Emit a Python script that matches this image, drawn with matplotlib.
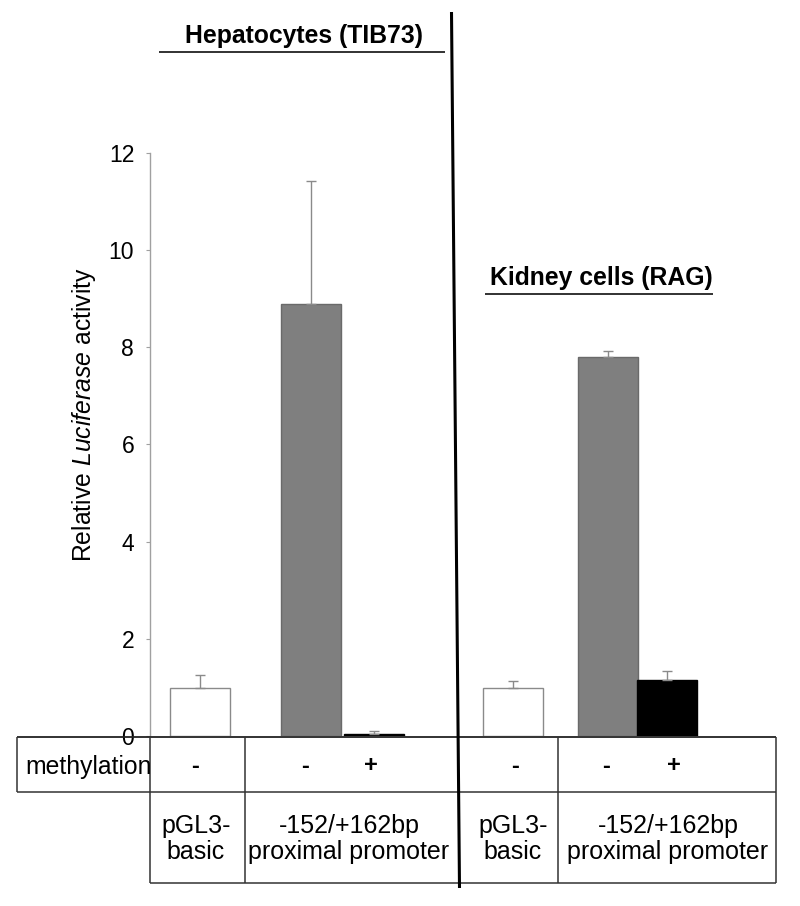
import matplotlib
matplotlib.use("Agg")
import matplotlib.pyplot as plt
from matplotlib.lines import Line2D

plt.rcParams['font.family'] = ['Liberation Sans', 'DejaVu Sans']
plt.rcParams['mathtext.fontset'] = 'custom'
plt.rcParams['mathtext.rm'] = 'Liberation Sans'
plt.rcParams['mathtext.it'] = 'Liberation Sans:italic'

# ---- data ----
groups = ["Hepatocytes (TIB73)", "Kidney cells (RAG)"]
conditions = ["pGL3-basic", "-152/+162bp unmethylated", "-152/+162bp methylated"]
hep_values = [1.0, 8.88, 0.05]
hep_errors = [0.27, 2.54, 0.05]
kid_values = [1.0, 7.80, 1.16]
kid_errors = [0.14, 0.12, 0.19]
yticks = [0, 2, 4, 6, 8, 10, 12]
methylation_signs = ["-", "-", "+", "-", "-", "+"]
construct_labels = ["pGL3-\nbasic", "-152/+162bp\nproximal promoter",
                    "pGL3-\nbasic", "-152/+162bp\nproximal promoter"]
ylabel = r"Relative $\it{Luciferase}$ activity"

# ---- layout (pixels) ----
W, H = 800, 906
fig = plt.figure(figsize=(W / 100, H / 100), dpi=100)

def fx(x):
    return x / W

def fy(y):
    return 1 - y / H

ax_left, ax_right, ax_top, ax_bottom = 149.5, 776, 152.5, 736.3
ax = fig.add_axes([fx(ax_left), fy(ax_bottom), fx(ax_right - ax_left),
                   (ax_bottom - ax_top) / H])
ax.set_xlim(0, ax_right - ax_left)
ax.set_ylim(0, 12)

bar_pos = [50.5, 161, 224, 363, 458, 517.5]
bar_w = 60
values = hep_values + kid_values
errors = hep_errors + kid_errors
faces = ["white", "#7f7f7f", "black", "white", "#7f7f7f", "black"]
edges = ["#8a8a8a", "#6a6a6a", "black", "#8a8a8a", "#6a6a6a", "black"]
for p, v, e, fc, ec in zip(bar_pos, values, errors, faces, edges):
    ax.bar(p, v, width=bar_w, color=fc, edgecolor=ec, linewidth=1.0, zorder=2)
    ax.errorbar(p, v, yerr=[[0], [e]], fmt="none", ecolor="#8a8a8a",
                elinewidth=1.0, capsize=3.6, capthick=1.0, zorder=3)

for s in ["top", "right", "bottom"]:
    ax.spines[s].set_visible(False)
ax.spines["left"].set_color("#a0a0a0")
ax.spines["left"].set_linewidth(1.0)
ax.set_xticks([])
ax.set_yticks(yticks)
ax.set_yticklabels([str(t) for t in yticks], fontsize=16.5)
ax.tick_params(axis="y", length=3, width=0.8, color="#a0a0a0", pad=8)
ax.patch.set_alpha(0)

fig.text(fx(84), fy(415), ylabel, rotation=90, ha="center", va="center",
         fontsize=17.8)

# ---- table lines ----
def line(x0, y0, x1, y1, lw=1.1, color="#333333"):
    fig.add_artist(Line2D([fx(x0), fx(x1)], [fy(y0), fy(y1)], lw=lw,
                          color=color, solid_capstyle="butt"))

line(17, 736.5, 776, 736.5, lw=1.3, color="#222222")
line(17, 792, 776, 792)
line(149.5, 883, 776, 883)
line(17, 736.5, 17, 792)
for x in [149.5, 245, 557.5, 776]:
    line(x, 736.5, x, 883)

# divider
line(451.5, 12, 459.5, 888, lw=2.2, color="black")

# ---- table texts ----
fig.text(fx(25), fy(767), "methylation", ha="left", va="center", fontsize=17.8)
sign_x = [195, 305, 371, 515, 606, 674]
for sx, s in zip(sign_x, methylation_signs):
    fig.text(fx(sx), fy(766), s, ha="center", va="center", fontsize=17,
             fontweight="bold")
label_x = [196, 349, 513, 668]
for lx, lab in zip(label_x, construct_labels):
    fig.text(fx(lx), fy(839), lab, ha="center", va="center", fontsize=18,
             linespacing=1.15)

# ---- group titles ----
fig.text(fx(304), fy(36), groups[0], ha="center", va="center", fontsize=17.8,
         fontweight="bold")
line(159, 52, 445, 52, lw=1.3, color="#222222")
fig.text(fx(601), fy(278), groups[1], ha="center", va="center", fontsize=17.8,
         fontweight="bold")
line(485, 294, 713, 294, lw=1.3, color="#222222")

fig.savefig("out.png", dpi=100)
